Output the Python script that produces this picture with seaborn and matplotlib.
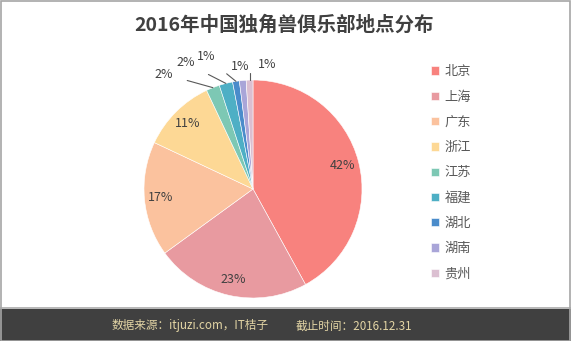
import matplotlib
matplotlib.use("Agg")
import matplotlib.pyplot as plt
import seaborn as sns
import numpy as np
from matplotlib.patches import Rectangle

# Share of unicorn clubs by location (percent)
cities = ["北京", "上海", "广东", "浙江", "江苏", "福建", "湖北", "湖南", "贵州"]
shares = [42, 23, 17, 11, 2, 2, 1, 1, 1]
colors = ["#F8827E", "#E89AA0", "#FBC29E", "#FDD895", "#7DC8B4",
          "#4EAFC5", "#4A8CCB", "#A9A5D8", "#DBBFD1"]
title = "2016年中国独角兽俱乐部地点分布"
source_text = "数据来源：itjuzi.com，IT桔子"
date_text = "截止时间：2016.12.31"

sns.set_theme(style="white")
plt.rcParams["font.family"] = ["Noto Sans CJK SC", "DejaVu Sans"]

W, H = 571, 341
fig = plt.figure(figsize=(W / 100, H / 100), dpi=100)
fig.patch.set_facecolor("white")

# pie centre and radius, in pixels
cx, cy, R = 253, 189, 109
ax = fig.add_axes([0, 0, 1, 1])
wedges, _ = ax.pie(shares, colors=colors, startangle=90, counterclock=False,
                   radius=1, wedgeprops=dict(linewidth=0.4, edgecolor="white"))
ax.set_aspect("auto")
ax.set_xlim(-cx / R, (W - cx) / R)
ax.set_ylim(-(H - cy) / R, cy / R)
ax.axis("off")


def to_data(x, y):
    return ((x - cx) / R, (cy - y) / R)


# label spots (pixels) for the thin slices near the top
outside = {4: (164, 74), 5: (186, 63), 6: (206, 57), 7: (240, 66), 8: (267, 65)}
text_color = "#404040"
for i, (w, v) in enumerate(zip(wedges, shares)):
    mid = np.deg2rad((w.theta1 + w.theta2) / 2)
    if i not in outside:
        ax.text(0.85 * np.cos(mid), 0.85 * np.sin(mid), f"{v}%",
                ha="center", va="center", fontsize=9, color=text_color)
        continue
    tx, ty = to_data(*outside[i])
    edge = (np.cos(mid), np.sin(mid))
    arrow = None
    if i == 8:
        arrow = dict(arrowstyle="-", color="#595959", lw=0.8,
                     connectionstyle="angle,angleA=0,angleB=90,rad=0",
                     shrinkA=7, shrinkB=0)
    elif i != 7:
        arrow = dict(arrowstyle="-", color="#595959", lw=0.8,
                     shrinkA=8, shrinkB=0)
    ax.annotate(f"{v}%", xy=edge, xytext=(tx, ty), ha="center", va="center",
                fontsize=9, color=text_color, arrowprops=arrow)

leg = ax.legend(wedges, cities, loc="upper left",
                bbox_to_anchor=(426 / W, 1 - 60 / H), bbox_transform=fig.transFigure,
                frameon=False, fontsize=9.5, handlelength=0.6, handleheight=0.6,
                handletextpad=0.4, labelspacing=0.93, labelcolor="#595959",
                borderaxespad=0)

fig.text(284 / W, 1 - 25 / H, title, ha="center", va="center",
         fontsize=14, fontweight="bold", color=text_color)

# dark footer band
fig.add_artist(Rectangle((0, 0), 1, 32 / H, transform=fig.transFigure,
                         facecolor="#404040", edgecolor="none"))
fig.add_artist(Rectangle((0, 32 / H), 1, 2 / H, transform=fig.transFigure,
                         facecolor="#b8b8b8", edgecolor="none"))
# outer frame
fig.add_artist(Rectangle((0.5 / W, 0.5 / H), 1 - 1.5 / W, 1 - 1.5 / H,
                         transform=fig.transFigure, facecolor="none",
                         edgecolor="#a6a6a6", lw=1.2))

fig.text(112 / W, 15 / H, source_text, ha="left", va="center",
         fontsize=8.4, color="#E3D5A5")
fig.text(296 / W, 15 / H, date_text, ha="left", va="center",
         fontsize=8.4, color="#E3D5A5")

fig.savefig("out.png", dpi=100, facecolor=fig.get_facecolor())
